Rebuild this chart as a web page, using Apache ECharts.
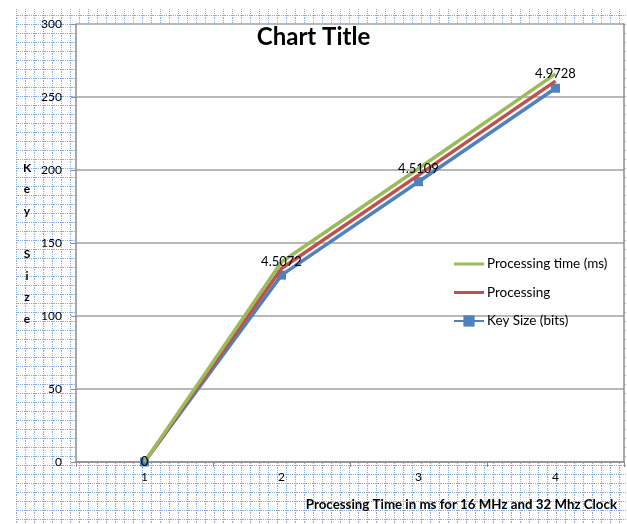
<!DOCTYPE html>
<html>
<head>
<meta charset="utf-8">
<script src="https://cdn.jsdelivr.net/npm/echarts@6/dist/echarts.min.js"></script>
<style>
  html, body { margin: 0; padding: 0; background: #fff; }
  #chart { width: 627px; height: 524px; }
</style>
</head>
<body>
<div id="chart"></div>
<script>
// Categories along the x axis
const categories = ['1', '2', '3', '4'];
// Series values (stacked line chart)
const keySizeBits = [0, 128, 192, 256];
const processing = [0, 4.5, 4.5, 4.9];
const processingTimeMs = [0, 4.5072, 4.5109, 4.9728];
// Value axis range
const yMin = 0;
const yMax = 300;
const yStep = 50;

const GREEN = '#9bbb59';
const RED = '#c0504d';
const BLUE = '#4f81bd';

// Graph-paper tile used behind the chart
function makeTile() {
  const c = document.createElement('canvas');
  c.width = 9; c.height = 9;
  const g = c.getContext('2d');
  g.fillStyle = '#ffffff';
  g.fillRect(0, 0, 9, 9);
  for (let i = 0; i < 9; i += 2) {
    g.fillStyle = '#86acdf';
    g.fillRect(7, i, 1, 1);
    g.fillRect(i, 6, 1, 1);
  }
  return c;
}

// Legend icon: a thin horizontal bar (tiny sliver keeps the full box height)
const LINE_ICON = 'path://M0,0h0.01v14h-0.01z M0,5.5h30v3h-30z';

const FONT = 'Lato, "Noto Sans", sans-serif';
const chart = echarts.init(document.getElementById('chart'), null, { renderer: 'canvas' });

chart.setOption({
  backgroundColor: '#ffffff',
  animation: false,
  textStyle: { fontFamily: FONT },
  title: {
    text: 'Chart Title',
    left: 'center',
    top: 20,
    textStyle: { fontSize: 24, fontWeight: 'bold', color: '#000', fontFamily: FONT }
  },
  graphic: [
    {
      type: 'rect', z: -10, silent: true,
      shape: { x: 16, y: 9, width: 611, height: 515 },
      style: { fill: { image: makeTile(), repeat: 'repeat' } }
    },
    {
      type: 'text', silent: true,
      style: {
        text: 'K\ne\ny\n\nS\ni\nz\ne',
        x: 27, y: 157, align: 'center', verticalAlign: 'top',
        font: 'bold 12px ' + FONT, lineHeight: 21.6, fill: '#000'
      }
    },
    {
      type: 'text', silent: true,
      style: {
        text: 'Processing Time in ms for 16 MHz and 32 Mhz Clock',
        x: 617, y: 505, align: 'right', verticalAlign: 'middle',
        font: 'bold 13.3px ' + FONT, fill: '#000'
      }
    }
  ],
  legend: {
    orient: 'vertical',
    left: 448,
    top: 252,
    itemWidth: 30,
    itemHeight: 14,
    itemGap: 14.5,
    textStyle: { fontSize: 13.5, color: '#000', fontFamily: FONT, padding: [0, 0, 0, -2] },
    data: [
      { name: 'Processing time (ms)', icon: LINE_ICON, itemStyle: { color: GREEN, opacity: 1 } },
      { name: 'Processing', icon: LINE_ICON, itemStyle: { color: RED } },
      { name: 'Key Size (bits)' }
    ]
  },
  grid: {
    left: 76, right: 3, top: 24, bottom: 62,
    show: true, backgroundColor: '#ffffff', borderWidth: 0
  },
  xAxis: {
    type: 'category',
    data: categories,
    boundaryGap: true,
    axisLine: { lineStyle: { color: '#8c8c8c', width: 1.5 } },
    axisTick: { show: true, length: 5, lineStyle: { color: '#8c8c8c' } },
    axisLabel: { margin: 9, fontSize: 12, color: '#000', fontFamily: FONT },
    splitLine: { show: false }
  },
  yAxis: [
    {
      type: 'value',
      min: yMin, max: yMax, interval: yStep,
      axisLine: { show: true, lineStyle: { color: '#8c8c8c', width: 1.5 } },
      axisTick: { show: true, length: 5, lineStyle: { color: '#8c8c8c' } },
      axisLabel: { margin: 14, fontSize: 12, color: '#000', fontFamily: FONT },
      splitLine: { show: true, lineStyle: { color: '#a0a0a0', width: 1.5 } }
    },
    {
      type: 'value',
      position: 'right',
      min: yMin, max: yMax, interval: yStep,
      axisLine: { show: true, lineStyle: { color: '#8c8c8c', width: 1.5 } },
      axisTick: { show: false },
      axisLabel: { show: false },
      splitLine: { show: false }
    }
  ],
  series: [
    {
      name: 'Key Size (bits)',
      type: 'line',
      stack: 'total',
      data: keySizeBits,
      symbol: 'rect',
      symbolSize: 9,
      showSymbol: true,
      color: BLUE,
      lineStyle: { width: 3.5, color: BLUE },
      itemStyle: { color: BLUE },
      z: 2
    },
    {
      name: 'Processing',
      type: 'line',
      stack: 'total',
      data: processing,
      symbol: 'none',
      color: RED,
      lineStyle: { width: 3.5, color: RED },
      z: 3
    },
    {
      name: 'Processing time (ms)',
      type: 'line',
      stack: 'total',
      data: processingTimeMs,
      symbol: 'circle',
      symbolSize: 2,
      showSymbol: true,
      color: GREEN,
      lineStyle: { width: 3.5, color: GREEN },
      itemStyle: { color: 'rgba(155,187,89,0)', borderWidth: 0 },
      label: {
        show: true,
        position: 'inside',
        fontSize: 13,
        color: '#000',
        fontFamily: FONT
      },
      z: 4
    }
  ]
});
</script>
</body>
</html>
